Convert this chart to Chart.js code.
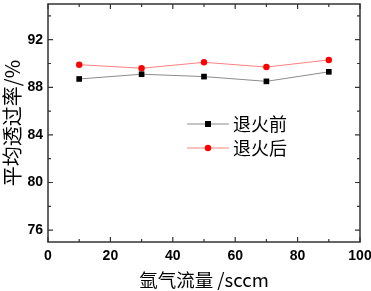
<!DOCTYPE html>
<html>
<head>
<meta charset="utf-8">
<script src="https://cdn.jsdelivr.net/npm/chart.js@4"></script>
<style>
  html, body { margin: 0; padding: 0; background: #fff; }
  #wrap { width: 371px; height: 291px; }
</style>
</head>
<body>
<div id="wrap"><canvas id="c" width="371" height="291"></canvas></div>
<script>
// data
const flow = [10, 30, 50, 70, 90];
const before = [88.7, 89.1, 88.9, 88.5, 89.3];
const after = [89.9, 89.6, 90.1, 89.7, 90.3];
const seriesNames = ['退火前', '退火后'];
const xTicks = [0, 20, 40, 60, 80, 100];
const yTicks = [76, 80, 84, 88, 92];

// inward ticks + box frame
const framePlugin = {
  id: 'frame',
  afterDraw(chart) {
    const ctx = chart.ctx;
    const a = chart.chartArea;
    const xs = chart.scales.x, ys = chart.scales.y;
    ctx.save();
    ctx.strokeStyle = '#333';
    ctx.lineWidth = 1.5;
    ctx.strokeRect(a.left, a.top, a.right - a.left, a.bottom - a.top);
    ctx.lineWidth = 1.2;
    ctx.beginPath();
    for (let v = 0; v <= 100; v += 10) {
      const len = v % 20 === 0 ? 5 : 3;
      const px = xs.getPixelForValue(v);
      ctx.moveTo(px, a.bottom); ctx.lineTo(px, a.bottom - len);
      ctx.moveTo(px, a.top); ctx.lineTo(px, a.top + len);
    }
    for (let v = 76; v <= 94; v += 2) {
      const len = v % 4 === 0 ? 5 : 3;
      const py = ys.getPixelForValue(v);
      ctx.moveTo(a.left, py); ctx.lineTo(a.left + len, py);
      ctx.moveTo(a.right, py); ctx.lineTo(a.right - len, py);
    }
    ctx.stroke();

    // legend
    const rows = [
      { name: seriesNames[0], line: '#8c8c8c', mark: '#000', square: true, y: 124 },
      { name: seriesNames[1], line: '#ff8080', mark: '#ff0000', square: false, y: 148 }
    ];
    ctx.font = '18px "Noto Sans CJK SC"';
    ctx.textBaseline = 'middle';
    rows.forEach(r => {
      ctx.strokeStyle = r.line;
      ctx.lineWidth = 1;
      ctx.beginPath();
      ctx.moveTo(187, r.y); ctx.lineTo(229, r.y);
      ctx.stroke();
      ctx.fillStyle = r.mark;
      if (r.square) {
        ctx.fillRect(205, r.y - 3, 6, 6);
      } else {
        ctx.beginPath(); ctx.arc(208, r.y, 3.2, 0, Math.PI * 2); ctx.fill();
      }
      ctx.fillStyle = '#000';
      ctx.fillText(r.name, 233, r.y);
    });
    ctx.restore();
  }
};

new Chart(document.getElementById('c'), {
  type: 'line',
  data: {
    datasets: [{
      label: seriesNames[0],
      data: flow.map((x, i) => ({ x: x, y: before[i] })),
      borderColor: '#8c8c8c',
      borderWidth: 1,
      backgroundColor: '#000',
      pointBackgroundColor: '#000',
      pointBorderColor: '#000',
      pointBorderWidth: 0,
      pointStyle: 'rect',
      pointRadius: 4,
      tension: 0
    }, {
      label: seriesNames[1],
      data: flow.map((x, i) => ({ x: x, y: after[i] })),
      borderColor: '#ff8080',
      borderWidth: 1,
      backgroundColor: '#f00',
      pointBackgroundColor: '#f00',
      pointBorderColor: '#f00',
      pointBorderWidth: 0,
      pointStyle: 'circle',
      pointRadius: 3.2,
      tension: 0
    }]
  },
  options: {
    responsive: false,
    animation: false,
    layout: { padding: { top: 2, right: 11, left: 0, bottom: 0 } },
    plugins: { legend: { display: false }, tooltip: { enabled: false } },
    scales: {
      x: {
        type: 'linear',
        min: 0, max: 100,
        afterBuildTicks: s => { s.ticks = xTicks.map(v => ({ value: v })); },
        afterFit: s => { s.height = 49; s.paddingLeft = 0; s.paddingRight = 0; },
        grid: { display: false, drawTicks: false },
        border: { display: false },
        ticks: {
          padding: 6,
          color: '#000',
          maxRotation: 0,
          font: { family: 'Liberation Sans', weight: 'bold', size: 14 }
        },
        title: {
          display: true,
          text: '氩气流量 /sccm',
          color: '#000',
          padding: { top: 1, bottom: 0 },
          font: { family: 'Noto Sans CJK SC', size: 18.5 }
        }
      },
      y: {
        min: 75, max: 95,
        afterBuildTicks: s => { s.ticks = yTicks.map(v => ({ value: v })); },
        afterFit: s => { s.width = 48; s.paddingTop = 0; s.paddingBottom = 0; },
        grid: { display: false, drawTicks: false },
        border: { display: false },
        ticks: {
          padding: 5,
          color: '#000',
          font: { family: 'Liberation Sans', weight: 'bold', size: 14 }
        },
        title: {
          display: true,
          text: '平均透过率/%',
          color: '#000',
          padding: { top: 0, bottom: 1 },
          font: { family: 'Noto Sans CJK SC', size: 20 }
        }
      }
    }
  },
  plugins: [framePlugin]
});
</script>
</body>
</html>
